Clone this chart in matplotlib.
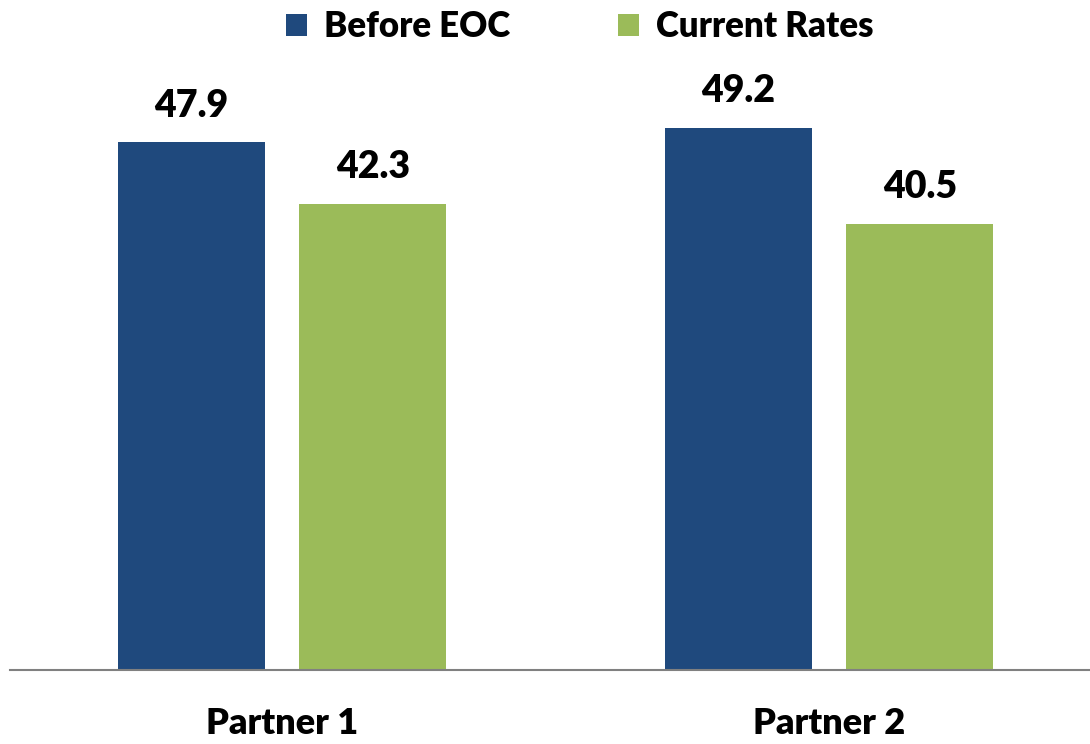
import numpy as np
import matplotlib.pyplot as plt

partners = ["Partner 1", "Partner 2"]
before_eoc = [47.9, 49.2]
current_rates = [42.3, 40.5]

plt.rcParams['font.family'] = ['Lato', 'DejaVu Sans']

fig = plt.figure(figsize=(10.9, 7.44), dpi=100)
ax = fig.add_axes([10 / 1090, 1 - 670 / 744, 1 - 10 / 1090, 670 / 744])

x = np.arange(len(partners))
w = 0.269
b1 = ax.bar(x - 0.166, before_eoc, w, color="#1F497D", label="Before EOC")
b2 = ax.bar(x + 0.166, current_rates, w, color="#9BBB59", label="Current Rates")

for bars in (b1, b2):
    for rect in bars:
        h = rect.get_height()
        ax.annotate(f"{h:.1f}", (rect.get_x() + rect.get_width() / 2, h),
                    xytext=(0, 14), textcoords="offset points",
                    ha="center", va="bottom", fontsize=27, fontweight="heavy")

ax.set_xlim(-0.497, 1.477)
ax.set_ylim(0, 60.8)
ax.set_xticks(x)
ax.set_xticklabels(partners, fontsize=26, fontweight="heavy")
ax.tick_params(axis="x", length=0, pad=27)
ax.set_yticks([])
for s in ["top", "right", "left"]:
    ax.spines[s].set_visible(False)
ax.spines["bottom"].set_color("#808080")
ax.spines["bottom"].set_linewidth(1.5)

fig.legend(loc="upper center", bbox_to_anchor=(580 / 1090, 1.005), ncol=2,
           frameon=False, prop={"weight": "heavy", "size": 25},
           handlelength=0.6, handleheight=0.6, handletextpad=0.5,
           columnspacing=3.1, borderaxespad=0.0)

fig.savefig("out.png", dpi=100)
